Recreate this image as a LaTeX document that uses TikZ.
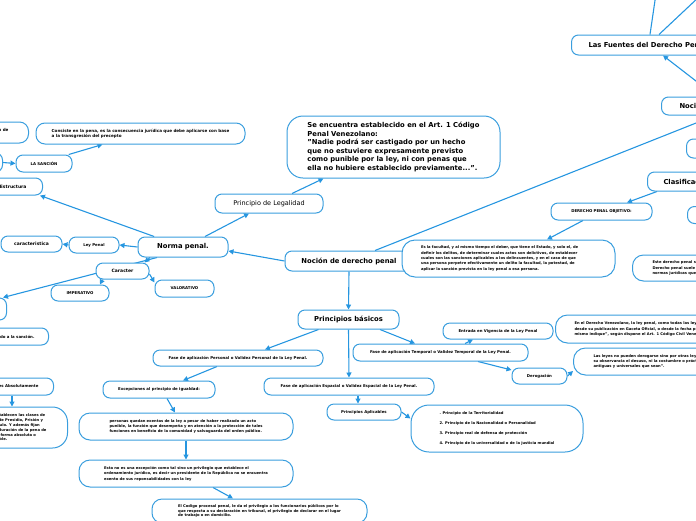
\documentclass[tikz,border=0pt]{standalone}
\usepackage{fontspec}
\setmainfont{DejaVu Sans}
\usetikzlibrary{arrows.meta}

\definecolor{mapblue}{RGB}{58,158,222}
\definecolor{linkblue}{RGB}{38,150,224}

\pgfdeclarelayer{back}
\pgfsetlayers{back,main}

\newcommand{\bigtxt}{\fontsize{6.8}{8}\selectfont\bfseries}
\newcommand{\quotetxt}{\fontsize{6.8}{8.6}\selectfont\bfseries}
\newcommand{\legaltxt}{\fontsize{6.5}{7.5}\selectfont}
\newcommand{\keytxt}{\fontsize{4.5}{5}\selectfont\bfseries}
\newcommand{\labeltxt}{\fontsize{3.9}{4.5}\selectfont\bfseries}
\newcommand{\notetxt}[1]{\fontsize{3.7}{#1}\selectfont\bfseries}

\tikzset{
  topic/.style={draw=mapblue, line width=1pt, fill=white, rounded corners=7pt,
    inner sep=0pt, align=center},
  note/.style={topic, align=left},
  link/.style={linkblue, line width=1.1pt, -{Triangle[length=5pt,width=5pt]}},
}

\begin{document}
\begin{tikzpicture}[x=1pt, y=-1pt]
  \useasboundingbox (0,0) rectangle (696,520);
  \clip (0,0) rectangle (696,520);

  % central topic
  \node[topic, minimum width=128pt, minimum height=20pt, font=\bigtxt] (nocion) at (349,261) {Noción de derecho penal};

  % Norma penal branch
  \node[topic, minimum width=90pt, minimum height=20pt, font=\bigtxt] (norma) at (183,247) {Norma penal.};
  \node[topic, minimum width=50pt, minimum height=16pt, font=\labeltxt] (leypenal) at (94,245) {Ley Penal};
  \node[topic, minimum width=61pt, minimum height=16pt, font=\keytxt] (caracteristica) at (31.5,244) {caracteristica};
  \node[topic, minimum width=53pt, minimum height=16pt, font=\keytxt] (caracter) at (122.5,271) {Caracter};
  \node[topic, minimum width=58pt, minimum height=16pt, font=\labeltxt] (imperativo) at (80,293) {IMPERATIVO};
  \node[topic, minimum width=59pt, minimum height=17pt, font=\labeltxt] (valorativo) at (184.5,288.5) {VALORATIVO};
  \node[topic, minimum width=50pt, minimum height=22pt, anchor=east] (tipos) at (7,309) {};
  \node[topic, inner xsep=14pt, minimum height=17pt, anchor=east, font=\labeltxt] (sometido) at (49,336.5) {sometido a la sanción.};
  \node[topic, inner xsep=16pt, minimum height=17pt, anchor=east, font=\keytxt] (estructura) at (43,186.5) {Estructura};
  \node[topic, minimum width=56pt, minimum height=17pt, font=\labeltxt] (sancion) at (44,163.5) {LA SANCIÓN};
  \node[topic, minimum width=40pt, minimum height=19pt, anchor=east] (precepto) at (3,162.5) {};
  \node[note, minimum width=209pt, minimum height=21pt, rounded corners=9pt, font=\fontsize{4.1}{5.2}\selectfont\bfseries] (consiste) at (140.5,133.5)
    {Consiste en la pena, es la consecuencia jurídica que debe aplicarse con base\\a la transgresión del precepto};
  \node[note, inner xsep=20pt, minimum height=21pt, rounded corners=9pt, anchor=east, font=\fontsize{4.1}{5.2}\selectfont\bfseries] (descripcion) at (29,132.5)
    {El precepto: es la descripción de\\la conducta punible.};

  % Principio de Legalidad
  \node[topic, minimum width=108pt, minimum height=19pt, font=\legaltxt] (legalidad) at (269,203.5) {Principio de Legalidad};
  \node[note, minimum width=213pt, minimum height=62pt, rounded corners=16pt, font=\quotetxt] (articulo) at (393.5,147)
    {Se encuentra establecido en el Art. 1 Código\\Penal Venezolano:\\"Nadie podrá ser castigado por un hecho\\que no estuviere expresamente previsto\\como punible por la ley, ni con penas que\\ella no hubiere establecido previamente...".};

  % right side, mostly outside the frame
  \node[topic, inner xsep=17pt, minimum height=20pt, anchor=west, font=\bigtxt] (fuentes) at (571,45) {Las Fuentes del Derecho Penal};
  \node[topic, inner xsep=18pt, minimum height=18pt, anchor=west, font=\bigtxt] (nocionder) at (661,106) {Noción del Derecho Penal};
  \node[topic, minimum width=60pt, minimum height=19pt, anchor=west] (objeto) at (686,148.5) {};
  \node[topic, inner xsep=16pt, minimum height=19pt, anchor=west, font=\bigtxt] (clasificacion) at (647,181.5) {Clasificación del Derecho Penal};
  \node[topic, minimum width=101pt, minimum height=17pt, font=\labeltxt] (objetivo) at (601.5,211.5) {DERECHO PENAL OBJETIVO:};
  \node[topic, minimum width=60pt, minimum height=17pt, anchor=west] (subjetivo) at (687,215) {};
  \node[note, text width=175pt, inner xsep=19pt, minimum height=37pt, rounded corners=13pt, font=\notetxt{5.3}] (facultad) at (508.5,258.5)
    {Es la facultad, y al mismo tiempo el deber, que tiene el Estado, y solo el, de\\definir los delitos, de determinar cuales actos son delictivos, de establecer\\cuales son las sanciones aplicables a los delincuentes, y en el caso de que\\una persona perpetre efectivamente un delito la facultad, la potestad, de\\aplicar la sanción prevista en la ley penal a esa persona.};
  \node[note, inner xsep=20pt, minimum height=26pt, rounded corners=11pt, anchor=west, font=\notetxt{5.5}] (estederecho) at (632,268)
    {Este derecho penal subjetivo\\Derecho penal suele\\normas jurídicas que};

  % Principios basicos
  \node[topic, minimum width=101pt, minimum height=19pt, font=\bigtxt] (principios) at (348.5,319.5) {Principios básicos};
  \node[topic, minimum width=170pt, minimum height=16pt, font=\labeltxt] (personal) at (238,358) {Fase de aplicación Personal o Validez Personal de la Ley Penal.};
  \node[topic, minimum width=112pt, minimum height=17pt, font=\labeltxt] (excepciones) at (159,389.5) {Excepciones al principio de igualdad:};
  \node[note, minimum width=214pt, minimum height=27pt, rounded corners=11pt, font=\notetxt{5.3}] (personas) at (186,426.5)
    {personas quedan exentas de la ley a pesar de haber realizado un acto\\punible, la función que desempeña y en atención a la protección de tales\\funciones en beneficio de la comunidad y salvaguarda del orden público.};
  \node[note, minimum width=214pt, minimum height=27pt, rounded corners=11pt, font=\notetxt{5.5}] (privilegio) at (186,473.5)
    {Esta no es una excepción como tal sino un privilegio que establece el\\ordenamiento jurídico, es decir un presidente de la República no se encuentra\\exento de sus reponsabilidades con la ley};
  \node[note, minimum width=215pt, minimum height=24pt, rounded corners=10pt, font=\notetxt{4.4}] (codigo) at (259.5,511)
    {El Codigo procesal penal, le da el privilegio a los funcionarios públicos por lo\\que respecta a su declaración en tribunal, el privilegio de declarar en el lugar\\de trabajo o en domicilio.};
  \node[topic, minimum width=170pt, minimum height=17pt, font=\labeltxt] (espacial) at (349,386.5) {Fase de aplicación Espacial o Validez Espacial de la Ley Penal.};
  \node[topic, minimum width=74pt, minimum height=16pt, font=\labeltxt] (aplicables) at (364,412) {Principios Aplicables};
  \node[note, minimum width=172pt, minimum height=47pt, rounded corners=18pt, font=\notetxt{9.7}] (lista) at (497,428.5)
    {. Principio de la Territorialidad\\2. Principio de la Nacionalidad o Personalidad\\3. Principio real de defensa de protección\\4. Principio de la universalidad o de la justicia mundial};
  \node[topic, minimum width=175pt, minimum height=17pt, font=\labeltxt] (temporal) at (440.5,352.5) {Fase de aplicación Temporal o Validez Temporal de la Ley Penal.};
  \node[topic, minimum width=110pt, minimum height=16pt, font=\labeltxt] (entrada) at (498,331) {Entrada en Vigencia de la Ley Penal};
  \node[topic, minimum width=55pt, minimum height=16pt, font=\labeltxt] (derogacion) at (539.5,376) {Derogación};
  \node[note, inner xsep=19pt, minimum height=28pt, rounded corners=12pt, anchor=west, font=\notetxt{5.5}] (vigencia) at (555,329)
    {En el Derecho Venezolano, la ley penal, como todas las leyes, entra en vigencia\\desde su publicación en Gaceta Oficial, o desde la fecha posterior que ella\\mismo indique", según dispone el Art. 1 Código Civil Venezolano.};
  \node[note, inner xsep=20pt, minimum height=27pt, rounded corners=12pt, anchor=west, font=\notetxt{5.3}] (leyes) at (573,361.5)
    {Las leyes no pueden derogarse sino por otras leyes; y no vale alegar contra\\su observancia el desuso, ni la costumbre o práctica en contrario, por\\antiguas y universales que sean".};

  % bottom left, cut by the frame
  \node[topic, inner xsep=15pt, minimum height=17pt, anchor=east, font=\labeltxt] (absolutas) at (54,386.5) {Leyes Absolutamente};
  \node[note, inner xsep=21pt, minimum height=41pt, rounded corners=15pt, anchor=east, font=\notetxt{4.8}] (clases) at (68,427.5)
    {Que establecen las clases de\\penas de Presidio, Prisión y\\el artículo. Y además fijan\\con la duración de la pena de\\de una forma absoluta o\\invariable.};

  % connectors behind the topics
  \begin{pgfonlayer}{back}
    \clip (0,0) rectangle (696,520);
    \coordinate (fuenteA) at (658,-20);
    \coordinate (fuenteB) at (717,-20);
    \draw[link] (nocion.west) -- ([yshift=-4pt]norma.east);
    \draw[link] (norma.west) -- (leypenal.east);
    \draw[link] (leypenal.west) -- (caracteristica.east);
    \draw[link] (norma.160) -- ([xshift=-3pt]estructura.south east);
    \draw[link] ([xshift=-33pt]norma.south) -- ([xshift=22pt]caracter.north);
    \draw[link] ([xshift=-26pt]norma.south) -- ([xshift=-4pt]tipos.north east);
    \draw[link] ([xshift=-20pt]caracter.south) -- ([xshift=20pt]imperativo.north);
    \draw[link] ([yshift=-3pt]caracter.east) -- ([yshift=6pt]valorativo.west);
    \draw[link] (precepto.east) -- (sancion.west);
    \draw[link] (sancion.20) -- ([xshift=-38pt]consiste.south);
    \draw[link] ([xshift=22pt]norma.north) -- ([xshift=-20pt]legalidad.south);
    \draw[link] ([xshift=23pt]legalidad.north) -- ([xshift=-70pt]articulo.south);
    \draw[link] (nocion.south) -- (principios.north);
    \draw[link] ([xshift=26pt]nocion.north) -- ([xshift=54pt]nocionder.south west);
    \draw[link] ([xshift=55pt]nocionder.north west) -- ([xshift=92pt]fuentes.south west);
    \draw[link] ([xshift=79pt]fuentes.north west) -- (fuenteA);
    \draw[link] ([xshift=88pt]fuentes.north west) -- (fuenteB);
    \draw[link] ([xshift=10pt]clasificacion.south west) -- ([xshift=25.5pt]objetivo.north);
    \draw[link] ([xshift=-18.5pt]objetivo.south) -- ([xshift=38.5pt]facultad.north);
    \draw[link] ([xshift=-30pt]principios.south) -- ([xshift=27pt]personal.north);
    \draw[link] (principios.south) -- (espacial.north);
    \draw[link] ([xshift=31.5pt]principios.south) -- ([xshift=-25.5pt]temporal.north);
    \draw[link] ([xshift=-21pt]personal.south) -- ([xshift=24pt]excepciones.north);
    \draw[link] ([xshift=8pt]excepciones.south) -- ([xshift=-11pt]personas.north);
    \draw[link] (personas.south) -- (privilegio.north);
    \draw[link] ([xshift=27pt]privilegio.south) -- ([xshift=-26.5pt]codigo.north);
    \draw[link] ([xshift=9pt]espacial.south) -- ([xshift=-6pt]aplicables.north);
    \draw[link] (aplicables.east) -- ([yshift=10pt]lista.west);
    \draw[link] ([xshift=24.5pt]temporal.north) -- ([xshift=-25pt]entrada.south);
    \draw[link] ([xshift=37.5pt]temporal.south) -- ([yshift=6pt]derogacion.west);
    \draw[link] (derogacion.east) -- ([yshift=-9.5pt]leyes.west);
    \draw[link] ([xshift=-42pt]absolutas.south east) -- ([xshift=-56pt]clases.north east);
  \end{pgfonlayer}
\end{tikzpicture}
\end{document}
